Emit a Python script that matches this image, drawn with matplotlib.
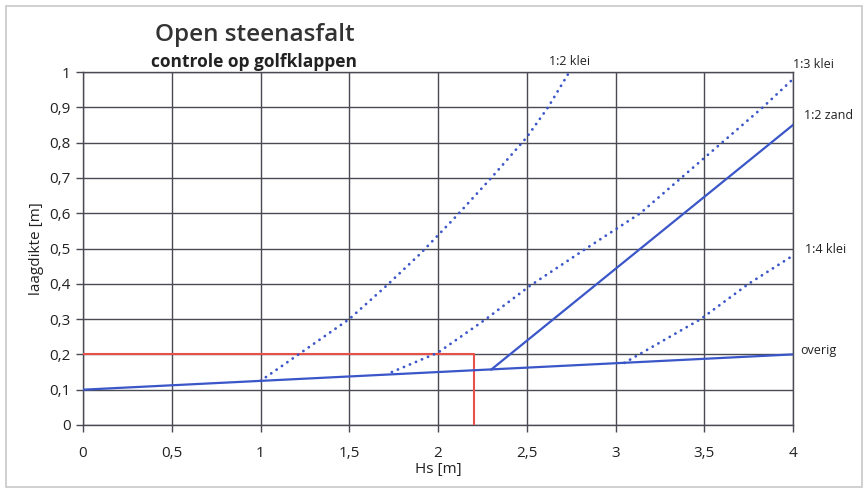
import matplotlib
matplotlib.use('Agg')
import matplotlib.pyplot as plt
from matplotlib.patches import Rectangle

# data
hs_overig = [0.0, 4.0]
d_overig = [0.1, 0.2]

hs_klei_12 = [1.0, 1.2, 1.5, 1.7, 1.9, 2.1, 2.3, 2.5, 2.62, 2.74]
d_klei_12 = [0.125, 0.195, 0.3, 0.39, 0.485, 0.59, 0.7, 0.815, 0.9, 1.0]

hs_klei_13 = [1.74, 2.0, 2.27, 2.52, 2.85, 3.14, 3.37, 3.6, 3.83, 4.0]
d_klei_13 = [0.15, 0.205, 0.3, 0.395, 0.505, 0.6, 0.7, 0.8, 0.9, 0.98]

hs_zand_12 = [2.3, 4.0]
d_zand_12 = [0.157, 0.85]

hs_klei_14 = [3.05, 3.48, 3.75, 4.0]
d_klei_14 = [0.176, 0.3, 0.4, 0.48]

hs_check = [0.0, 2.2, 2.2]
d_check = [0.2, 0.2, 0.0]

x_ticks = [0, 0.5, 1, 1.5, 2, 2.5, 3, 3.5, 4]
x_tick_labels = ['0', '0,5', '1', '1,5', '2', '2,5', '3', '3,5', '4']
y_ticks = [0, 0.1, 0.2, 0.3, 0.4, 0.5, 0.6, 0.7, 0.8, 0.9, 1.0]
y_tick_labels = ['0', '0,1', '0,2', '0,3', '0,4', '0,5', '0,6', '0,7', '0,8', '0,9', '1']

line_labels = ['1:2 klei', '1:3 klei', '1:2 zand', '1:4 klei', 'overig']

plt.rcParams['font.family'] = ['Open Sans', 'DejaVu Sans']

blue = '#3a56c8'
red = '#e8504a'
grid_col = '#4a4a55'

f = plt.figure(figsize=(8.66, 4.93), dpi=100)
ax = f.add_axes([83 / 866, 1 - 425 / 493, 710 / 866, 353 / 493])

# light border around the whole picture
f.patches.append(Rectangle((6 / 866, 6 / 493), 856 / 866, 481 / 493, transform=f.transFigure,
	fill=False, edgecolor='#c8c8c8', linewidth=1.2))

ax.plot(hs_check, d_check, color=red, lw=1.5, zorder=3)
ax.plot(hs_overig, d_overig, color=blue, lw=1.6, zorder=4)
ax.plot(hs_zand_12, d_zand_12, color=blue, lw=1.6, zorder=4)
for hs, d in [(hs_klei_12, d_klei_12), (hs_klei_13, d_klei_13), (hs_klei_14, d_klei_14)]:
	ax.plot(hs, d, color=blue, lw=2.0, linestyle=(0, (0.05, 2.3)), dash_capstyle='round', zorder=4)

ax.set_xlim(0, 4)
ax.set_ylim(0, 1)
ax.set_xticks(x_ticks)
ax.set_xticklabels(x_tick_labels)
ax.set_yticks(y_ticks)
ax.set_yticklabels(y_tick_labels)
ax.grid(True, color=grid_col, linewidth=1.0)
ax.set_axisbelow(True)
for s in ax.spines.values():
	s.set_color(grid_col)
	s.set_linewidth(1.0)
ax.tick_params(axis='both', direction='out', length=5, width=1.0, color=grid_col,
	labelsize=11, labelcolor='#222222', pad=4)
ax.tick_params(axis='x', pad=10)

ax.set_xlabel('Hs [m]', fontsize=11, color='#222222', labelpad=1)
ax.set_ylabel('laagdikte [m]', fontsize=11, color='#222222', labelpad=4)

# curve labels
ax.text(2.74, 1.03, line_labels[0], fontsize=9, ha='center', va='center', color='#222222')
ax.text(4.0, 1.02, line_labels[1], fontsize=9, ha='left', va='center', color='#222222')
ax.text(4.06, 0.878, line_labels[2], fontsize=9, ha='left', va='center', color='#222222')
ax.text(4.07, 0.498, line_labels[3], fontsize=9, ha='left', va='center', color='#222222')
ax.text(4.04, 0.212, line_labels[4], fontsize=9, ha='left', va='center', color='#222222', clip_on=False)

f.text(255 / 866, 1 - 35 / 493, 'Open steenasfalt', fontsize=17.5, fontweight='semibold',
	ha='center', va='center', color='#333333')
f.text(254 / 866, 1 - 62 / 493, 'controle op golfklappen', fontsize=12.5, fontweight='bold',
	ha='center', va='center', color='#222222')

plt.savefig('out.png', dpi=100)
